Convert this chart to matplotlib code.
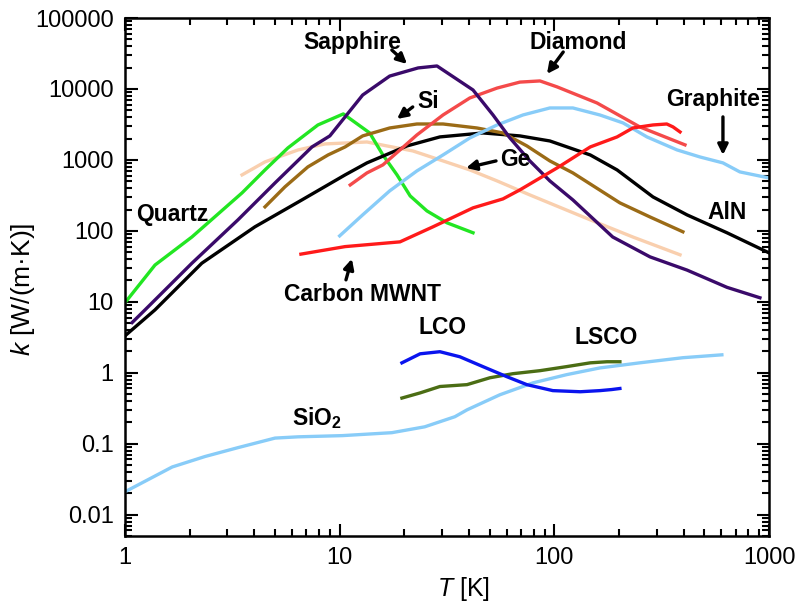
import numpy as np
import matplotlib
matplotlib.use('Agg')
from matplotlib import pyplot as plt

plt.rcParams['font.family'] = ['Liberation Sans', 'DejaVu Sans']
plt.rcParams['mathtext.fontset'] = 'custom'
plt.rcParams['mathtext.rm'] = 'Liberation Sans'
plt.rcParams['mathtext.it'] = 'Liberation Sans:italic'
plt.rcParams['mathtext.bf'] = 'Liberation Sans:bold'

# thermal conductivity data, T in K, k in W/(m K)
quartz_T = [1.0, 1.38, 2.05, 3.51, 4.49, 5.74, 7.92, 10.4, 13.8, 15.9, 18.5, 21.3, 25.5, 31.6, 41.8]
quartz_k = [9.7, 33, 82, 343, 723, 1476, 3110, 4450, 2400, 1175, 615, 311, 191, 130, 94]

sapph_T = [1.08, 1.24, 2.05, 3.36, 5.0, 7.43, 9.0, 12.8, 17.1, 23.2, 28.4, 41.8, 51.8, 62.1, 76.9, 95.3, 122, 187, 279, 415, 637, 907]
sapph_k = [5.1, 7.7, 35, 143, 474, 1524, 2180, 8220, 15200, 19800, 21100, 9680, 4300, 2040, 968, 506, 273, 82, 43, 28, 16, 11.4]

aln_T = [1.01, 1.38, 2.28, 4.03, 6.67, 10.6, 13.4, 20.6, 29.3, 46.5, 69.1, 95.3, 147, 196, 288, 415, 637, 1000]
aln_k = [3.4, 7.7, 35, 114, 273, 615, 908, 1575, 2110, 2400, 2180, 1850, 1175, 723, 301, 168, 94, 49]

ge_T = [3.51, 4.49, 6.4, 8.54, 13.4, 16.6, 21.9, 30.3, 40.4, 54.1, 76.9, 147, 232, 385]
ge_k = [615, 938, 1383, 1680, 1790, 1575, 1340, 968, 723, 506, 321, 143, 82, 46]

si_T = [4.49, 5.56, 7.11, 8.83, 10.6, 12.8, 17.1, 22.9, 30.3, 43.6, 57.6, 74.5, 95.3, 122, 202, 279, 397]
si_k = [218, 417, 797, 1175, 1524, 2180, 2820, 3210, 3210, 2820, 2400, 1575, 968, 656, 248, 157, 97]

diam_T = [11.2, 13.4, 15.9, 19.1, 22.9, 30.3, 40.4, 54.1, 69.1, 85.7, 103, 158, 250, 406]
diam_k = [444, 656, 851, 1383, 2250, 4300, 7470, 10300, 12500, 12980, 10700, 6350, 2920, 1630]

graph_T = [10.0, 12.8, 17.1, 22.9, 30.3, 40.4, 54.1, 71.4, 95.3, 122, 163, 209, 270, 373, 477, 610, 731, 1000]
graph_k = [85, 168, 366, 700, 1175, 2040, 3110, 4300, 5400, 5400, 4300, 3320, 2110, 1383, 1100, 908, 678, 557]

mwnt_T = [6.6, 10.6, 19.1, 27.2, 41.8, 57.6, 69.1, 103, 147, 196, 232, 288, 334, 357, 385]
mwnt_k = [47, 60, 70, 114, 211, 282, 378, 771, 1524, 2110, 2820, 3110, 3210, 2920, 2480]

sio2_T = [1.0, 1.66, 2.36, 3.36, 5.0, 6.4, 10.3, 17.5, 24.9, 34.4, 39.2, 55.8, 79.5, 114, 163, 250, 397, 603]
sio2_k = [0.021, 0.047, 0.066, 0.088, 0.12, 0.125, 0.13, 0.143, 0.173, 0.24, 0.30, 0.49, 0.72, 0.94, 1.17, 1.38, 1.63, 1.79]

lco_T = [19.5, 23.7, 29.3, 36.3, 46.5, 60.1, 74.5, 98.4, 132, 163, 185, 202]
lco_k = [1.38, 1.85, 1.98, 1.68, 1.22, 0.88, 0.68, 0.56, 0.54, 0.56, 0.58, 0.60]

lsco_T = [19.5, 23.7, 29.3, 39.2, 50.1, 64.1, 85.7, 114, 147, 176, 202]
lsco_k = [0.44, 0.52, 0.64, 0.68, 0.85, 0.97, 1.07, 1.22, 1.38, 1.43, 1.43]

fig = plt.figure(figsize=(7.98, 6.03), dpi=100)
ax = fig.add_axes([0.1566, 0.1111, 0.8071, 0.859])

lw = 2.4
ax.plot(ge_T, ge_k, c='#f9cfae', lw=lw)
ax.plot(quartz_T, quartz_k, c='#22e622', lw=lw)
ax.plot(aln_T, aln_k, c='black', lw=lw)
ax.plot(si_T, si_k, c='#9b6b16', lw=lw)
ax.plot(graph_T, graph_k, c='#88ccf8', lw=lw)
ax.plot(diam_T, diam_k, c='#f44a4a', lw=lw)
ax.plot(sapph_T, sapph_k, c='#3a0a6a', lw=lw)
ax.plot(mwnt_T, mwnt_k, c='#ff1a1a', lw=lw)
ax.plot(sio2_T, sio2_k, c='#88ccf8', lw=lw)
ax.plot(lsco_T, lsco_k, c='#4b6d14', lw=lw)
ax.plot(lco_T, lco_k, c='#0a14ee', lw=lw)

ax.set_xscale('log')
ax.set_yscale('log')
ax.set_xlim(1, 1000)
ax.set_ylim(0.005, 100000)
ax.set_xticks([1, 10, 100, 1000])
ax.set_xticklabels(['1', '10', '100', '1000'])
ax.set_yticks([0.01, 0.1, 1, 10, 100, 1000, 10000, 100000])
ax.set_yticklabels(['0.01', '0.1', '1', '10', '100', '1000', '10000', '100000'])
ax.tick_params(which='both', direction='in', top=True, right=True, labelsize=17, width=1.5)
ax.tick_params(which='major', length=9, pad=8)
ax.tick_params(which='minor', length=5)
for s in ax.spines.values():
    s.set_linewidth(1.8)

ax.set_xlabel('$\\mathit{T}$ [K]', fontsize=18)
ax.set_ylabel('$\\mathit{k}$ [W/(m·K)]', fontsize=19)
ax.xaxis.set_label_coords(0.525, -0.075)
ax.yaxis.set_label_coords(-0.137, 0.477)

bold = dict(fontsize=16.5, fontweight='bold', ha='center', va='center')
ap = dict(arrowstyle='-|>', lw=2.4, color='black', mutation_scale=15, shrinkA=0, shrinkB=0)

ax.text(11.4, 45900, 'Sapphire', **bold)
ax.annotate('', xy=(20.6, 22500), xytext=(17.5, 35400), arrowprops=ap)
ax.text(129, 45900, 'Diamond', **bold)
ax.annotate('', xy=(92.4, 16300), xytext=(110, 33200), arrowprops=ap)
ax.text(548, 7000, 'Graphite', **bold)
ax.annotate('', xy=(610, 1175), xytext=(610, 4040), arrowprops=ap)
ax.text(25.8, 6560, 'Si', **bold)
ax.annotate('', xy=(18.5, 3780), xytext=(21.9, 5580), arrowprops=ap)
ax.text(65.5, 1000, 'Ge', **bold)
ax.annotate('', xy=(38.8, 771), xytext=(53.5, 968), arrowprops=ap)
ax.text(637, 180, 'AlN', **bold)
ax.text(1.67, 168, 'Quartz', **bold)
ax.text(12.8, 12.6, 'Carbon MWNT', **bold)
ax.annotate('', xy=(11.4, 40.4), xytext=(10.7, 20.4), arrowprops=ap)
ax.text(30.0, 4.3, 'LCO', **bold)
ax.text(174, 3.11, 'LSCO', **bold)
ax.text(7.84, 0.232, 'SiO$_\\mathbf{2}$', **bold)

fig.savefig('out.png', dpi=100)
